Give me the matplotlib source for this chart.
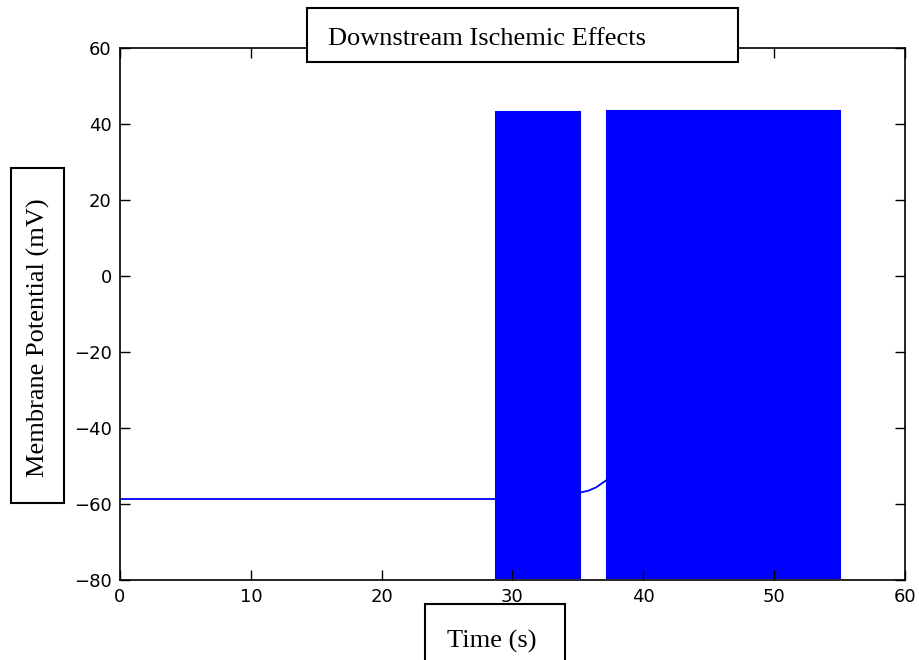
import matplotlib
matplotlib.use('Agg')
import matplotlib.pyplot as plt
from matplotlib.patches import Rectangle

# membrane potential trace
rest_t = [0.0, 28.7]
rest_v = [-58.8, -58.8]
recov_t = [35.15, 35.8, 36.4, 37.15]
recov_v = [-57.0, -56.5, -55.6, -53.8]

# spike bursts drawn as solid bands (spikes too dense to resolve)
burst_start = [28.7, 37.15]
burst_end = [35.15, 55.0]
burst_top = [43.5, 43.6]
burst_bottom = [-79.5, -79.6]

xticks = [0, 10, 20, 30, 40, 50, 60]
yticks = [-80, -60, -40, -20, 0, 20, 40, 60]

W, H = 920, 660


def fx(px):
    return px / W


def fy(py):
    return 1 - py / H


fig = plt.figure(figsize=(9.2, 6.6), dpi=100)
fig.patch.set_facecolor('white')
ax = fig.add_axes([fx(120), fy(580), fx(905) - fx(120), fy(48) - fy(580)])

blue = '#0000ff'
ax.plot(rest_t, rest_v, color=blue, lw=1.3)
ax.plot(recov_t, recov_v, color=blue, lw=1.3)
for t0, t1, hi, lo in zip(burst_start, burst_end, burst_top, burst_bottom):
    ax.fill_between([t0, t1], [lo, lo], [hi, hi], color=blue, lw=0.8, edgecolor=blue)

ax.set_xlim(0, 60)
ax.set_ylim(-80, 60)
ax.set_xticks(xticks)
ax.set_yticks(yticks)
ax.set_yticklabels([f'\u2212{abs(v)}' if v < 0 else str(v) for v in yticks])
ax.tick_params(direction='in', top=True, right=True, length=7, width=1,
               labelsize=13, pad=6)
for lab in ax.get_xticklabels() + ax.get_yticklabels():
    lab.set_family('DejaVu Sans')
for sp in ax.spines.values():
    sp.set_linewidth(1.2)

serif = 'Liberation Serif'


def boxed(x0, y0, x1, y1):
    # box given in pixel coordinates (top-left / bottom-right)
    r = Rectangle((fx(x0), fy(y1)), fx(x1) - fx(x0), fy(y0) - fy(y1),
                  transform=fig.transFigure, facecolor='white',
                  edgecolor='black', lw=1.5, zorder=5)
    fig.patches.append(r)


# title box
boxed(307, 8, 738, 62)
fig.text(fx(328), fy(45), 'Downstream Ischemic Effects', family=serif,
         fontsize=19, ha='left', va='baseline', zorder=6)

# y label box
boxed(11, 168, 64, 503)
fig.text(fx(38), fy(338), 'Membrane Potential (mV)', family=serif,
         fontsize=19, rotation=90, ha='center', va='center', zorder=6)

# x label box
boxed(425, 604, 565, 665)
fig.text(fx(492), fy(648), 'Time (s)', family=serif,
         fontsize=19, ha='center', va='baseline', zorder=6)

fig.savefig('out.png', dpi=100, facecolor='white')
